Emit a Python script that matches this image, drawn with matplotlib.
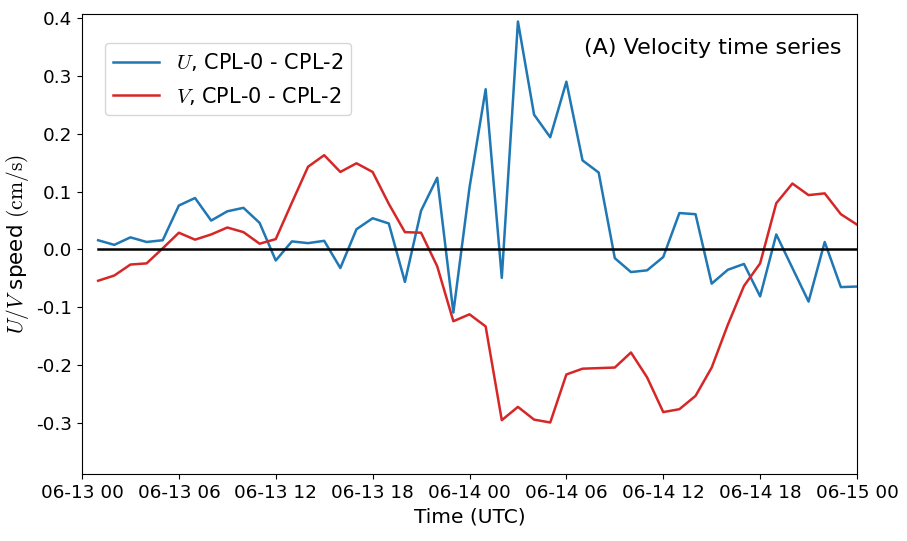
import numpy as np
import pandas as pd
import matplotlib
matplotlib.use("Agg")
import matplotlib.pyplot as plt
import matplotlib.dates as mdates

plt.rcParams['font.family'] = ['DejaVu Sans']
plt.rcParams['mathtext.fontset'] = 'cm'
plt.rcParams['axes.unicode_minus'] = False

# hourly differences CPL-0 - CPL-2
times = pd.date_range('2023-06-13 01:00', periods=48, freq='h')
u_diff = [0.016, 0.008, 0.021, 0.013, 0.016, 0.076, 0.089, 0.050, 0.066, 0.072,
          0.046, -0.019, 0.014, 0.011, 0.015, -0.032, 0.035, 0.054, 0.045, -0.056,
          0.067, 0.124, -0.109, 0.107, 0.277, -0.049, 0.394, 0.233, 0.194, 0.290,
          0.154, 0.133, -0.015, -0.039, -0.036, -0.013, 0.063, 0.061, -0.059, -0.035,
          -0.025, -0.081, 0.026, -0.032, -0.090, 0.013, -0.065, -0.064]
v_diff = [-0.054, -0.045, -0.026, -0.024, 0.002, 0.029, 0.017, 0.026, 0.038, 0.030,
          0.010, 0.018, 0.081, 0.143, 0.163, 0.134, 0.149, 0.134, 0.079, 0.030,
          0.029, -0.029, -0.124, -0.112, -0.133, -0.295, -0.272, -0.294, -0.299, -0.216,
          -0.206, -0.205, -0.204, -0.178, -0.221, -0.281, -0.276, -0.253, -0.204, -0.130,
          -0.063, -0.024, 0.080, 0.114, 0.094, 0.097, 0.061, 0.043]

fig = plt.figure(figsize=(9.07, 5.41), dpi=100)
ax = fig.add_axes([82 / 907, 1 - 474 / 541, (857 - 82) / 907, (474 - 14) / 541])

ax.plot(times, u_diff, color='#1f77b4', lw=1.8, label=r'$U$, CPL-0 - CPL-2')
ax.plot(times, v_diff, color='#d62728', lw=1.8, label=r'$V$, CPL-0 - CPL-2')
ax.plot(times, np.zeros(len(times)), color='black', lw=1.8)

ax.set_xlim(pd.Timestamp('2023-06-13 00:00'), pd.Timestamp('2023-06-15 00:00'))
ax.set_ylim(-0.388, 0.407)
ax.set_yticks([-0.3, -0.2, -0.1, 0.0, 0.1, 0.2, 0.3, 0.4])
ax.xaxis.set_major_locator(mdates.HourLocator(byhour=[0, 6, 12, 18]))
ax.xaxis.set_major_formatter(mdates.DateFormatter('%m-%d %H'))
ax.tick_params(labelsize=13.2)

ax.set_xlabel('Time (UTC)', fontsize=14.5)
ax.set_ylabel(r'$U/V$ speed $(\mathrm{cm/s})$', fontsize=15.5)
ax.text(0.98, 0.925, '(A) Velocity time series', transform=ax.transAxes,
        ha='right', va='center', fontsize=16)
ax.legend(loc='upper left', bbox_to_anchor=(0.016, 0.96), fontsize=15,
          handlelength=2.2, labelspacing=0.55, framealpha=0.8)

plt.savefig('out.png', dpi=100)
